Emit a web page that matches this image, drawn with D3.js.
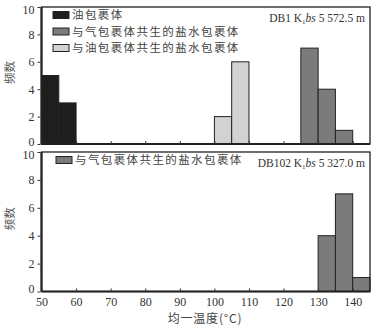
<!DOCTYPE html>
<html>
<head>
<meta charset="utf-8">
<script src="https://cdn.jsdelivr.net/npm/d3@7"></script>
<style>
  body { margin: 0; background: #fff; }
  svg { display: block; }
</style>
</head>
<body>
<div id="chart"></div>
<script>
'use strict';

// bins of 5 degC, x0 = lower edge
var oilBins = [50, 55];
var oilCounts = [5, 3];

var brineOilBins = [100, 105];
var brineOilCounts = [2, 6];

var brineGasBins = [125, 130, 135];
var brineGasCounts = [7, 4, 1];

var db102Bins = [130, 135, 140];
var db102Counts = [4, 7, 1];

var xTicks = [50, 60, 70, 80, 90, 100, 110, 120, 130, 140];
var yTicks = [0, 2, 4, 6, 8, 10];

var legendTop = ['油包裹体', '与气包裹体共生的盐水包裹体', '与油包裹体共生的盐水包裹体'];
var legendBottom = ['与气包裹体共生的盐水包裹体'];

var colors = {oil: '#1e1e1e', gas: '#7b7b7b', light: '#d2d2d2'};

var width = 388, height = 330;
var left = 41.5, right = 370;
var binWidth = 5;

var svg = d3.select('#chart').append('svg')
    .attr('width', width)
    .attr('height', height);

var x = d3.scaleLinear().domain([50, 145]).range([left, right]);

var serif = '"Liberation Serif", "DejaVu Serif", serif';
var cjk = '"Noto Sans CJK SC", sans-serif';

function makePanel(top, bottom, series, legend, label, showXLabels) {
    var y = d3.scaleLinear().domain([0, 10]).range([bottom, top]);
    var g = svg.append('g');

    series.forEach(function(s) {
        g.selectAll(null)
            .data(s.bins.map(function(b, i) { return {x0: b, n: s.counts[i]}; }))
            .enter().append('rect')
            .attr('x', function(d) { return x(d.x0); })
            .attr('y', function(d) { return y(d.n); })
            .attr('width', function(d) { return x(d.x0 + binWidth) - x(d.x0); })
            .attr('height', function(d) { return y(0) - y(d.n); })
            .attr('fill', s.color)
            .attr('stroke', '#222')
            .attr('stroke-width', 1);
    });

    // frame
    g.append('rect')
        .attr('x', left).attr('y', top)
        .attr('width', right - left).attr('height', bottom - top)
        .attr('fill', 'none').attr('stroke', '#222').attr('stroke-width', 1.3);
    g.append('line')
        .attr('x1', left).attr('x2', right)
        .attr('y1', bottom).attr('y2', bottom)
        .attr('stroke', '#222').attr('stroke-width', 2.2);
    g.append('line')
        .attr('x1', left).attr('x2', left)
        .attr('y1', top).attr('y2', bottom)
        .attr('stroke', '#222').attr('stroke-width', 2.2);

    var yAxis = g.append('g')
        .attr('transform', 'translate(' + (left - 1) + ',0)')
        .call(d3.axisLeft(y).tickValues(yTicks).tickSize(3).tickPadding(3));
    yAxis.select('.domain').remove();
    yAxis.selectAll('text')
        .attr('font-family', serif).attr('font-size', 12).attr('fill', '#333')
        .attr('y', function(d) { return d === 10 ? 2.5 : (d === 0 ? -2.5 : 0); });
    yAxis.selectAll('line').attr('stroke', '#333');

    var xAxis = g.append('g')
        .attr('transform', 'translate(0,' + bottom + ')')
        .call(d3.axisBottom(x).tickValues(xTicks).tickSize(-3).tickPadding(6)
            .tickFormat(showXLabels ? d3.format('d') : ''));
    xAxis.select('.domain').remove();
    xAxis.selectAll('text')
        .attr('font-family', serif).attr('font-size', 12).attr('fill', '#333');
    xAxis.selectAll('line').attr('stroke', '#333');

    // legend
    legend.forEach(function(item, i) {
        var ly = top + 8 + i * 16.5;
        g.append('rect')
            .attr('x', item.sx).attr('y', ly - 3.5)
            .attr('width', 16).attr('height', 7)
            .attr('fill', item.color).attr('stroke', '#222').attr('stroke-width', 1);
        g.append('text')
            .attr('x', item.sx + 19).attr('y', ly + 4)
            .attr('font-family', cjk).attr('font-size', 11.5)
            .attr('letter-spacing', 1.4)
            .attr('fill', '#444')
            .text(item.text);
    });

    // well label
    var t = g.append('text')
        .attr('x', right - 5).attr('y', top + 15)
        .attr('text-anchor', 'end')
        .attr('font-family', serif).attr('font-size', 11.5)
        .attr('fill', '#333');
    t.append('tspan').text(label[0] + ' K');
    t.append('tspan').attr('font-size', 7).attr('dy', 2).text('1');
    t.append('tspan').attr('font-style', 'italic').attr('dy', -2).text('bs');
    t.append('tspan').text(' ' + label[1]);

    // y label
    g.append('text')
        .attr('transform', 'translate(14,' + ((top + bottom) / 2 - 3) + ') rotate(-90)')
        .attr('text-anchor', 'middle')
        .attr('font-family', cjk).attr('font-size', 11.5)
        .attr('fill', '#555')
        .text('频数');
}

makePanel(7, 144,
    [
        {bins: oilBins, counts: oilCounts, color: colors.oil},
        {bins: brineOilBins, counts: brineOilCounts, color: colors.light},
        {bins: brineGasBins, counts: brineGasCounts, color: colors.gas}
    ],
    [
        {text: legendTop[0], color: colors.oil, sx: 53},
        {text: legendTop[1], color: colors.gas, sx: 53},
        {text: legendTop[2], color: colors.light, sx: 53}
    ],
    ['DB1', '5 572.5 m'], false);

makePanel(152, 291.5,
    [
        {bins: db102Bins, counts: db102Counts, color: colors.gas}
    ],
    [
        {text: legendBottom[0], color: colors.gas, sx: 56}
    ],
    ['DB102', '5 327.0 m'], true);

svg.append('text')
    .attr('x', 205).attr('y', 323)
    .attr('text-anchor', 'middle')
    .attr('font-family', cjk).attr('font-size', 12)
    .attr('letter-spacing', 0.8)
    .attr('fill', '#444')
    .text('均一温度(°C)');
</script>
</body>
</html>
